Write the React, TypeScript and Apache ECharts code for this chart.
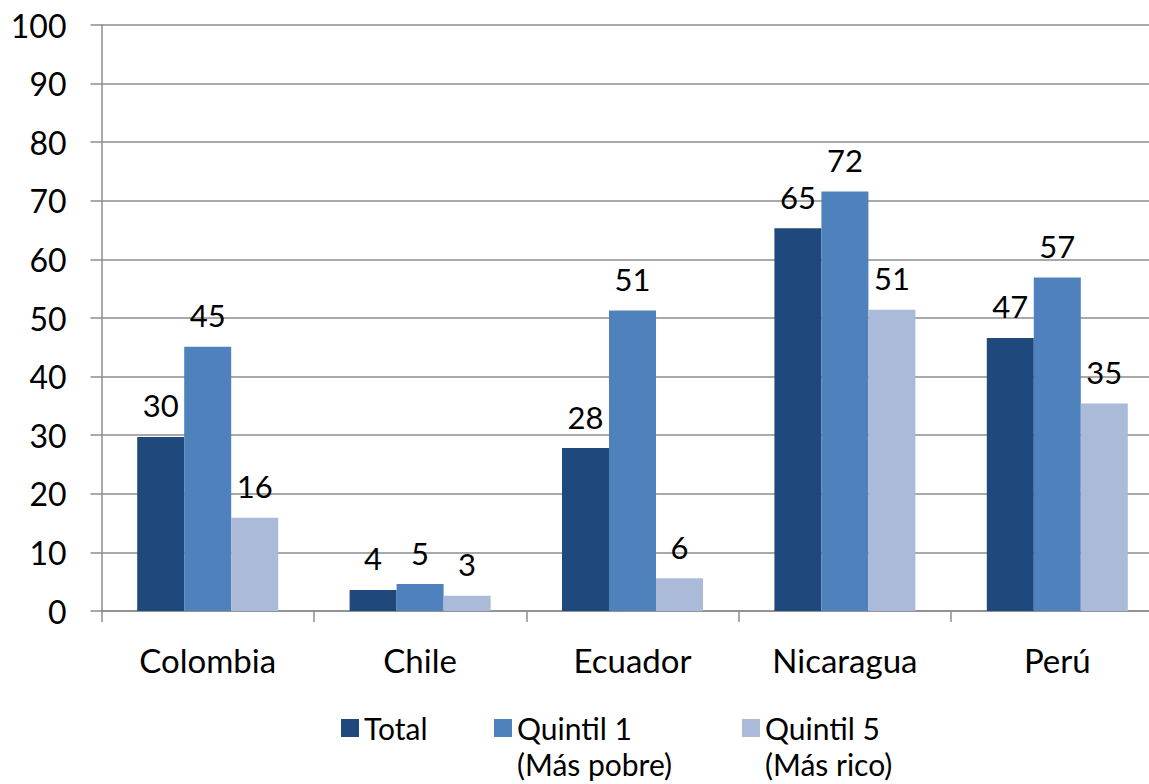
import React, { useEffect, useRef } from "react";
import * as echarts from "echarts";

// Countries on the category axis
const countries = ["Colombia", "Chile", "Ecuador", "Nicaragua", "Perú"];

// Series values (percent)
const totalValues = [29.7, 3.6, 27.8, 65.3, 46.6];
const quintil1Values = [45.1, 4.6, 51.3, 71.6, 56.9];
const quintil5Values = [15.9, 2.6, 5.6, 51.4, 35.4];

// Series names as shown in the legend
const seriesNames = ["Total", "Quintil 1\n(Más pobre)", "Quintil 5\n(Más rico)"];
const seriesColors = ["#1F497D", "#4F81BD", "#AABAD8"];

// Value axis range
const yMin = 0;
const yMax = 100;
const yStep = 10;

const FONT = 'Lato, "Open Sans", "Noto Sans", sans-serif';
const GRAY = "#8c8c8c";
const LEGEND_LINE = 36;
const ICON = 18;

// The plot runs a little past the right edge of the page, so the chart
// is drawn wider than the visible frame and clipped.
const VIEW_W = 1149;
const VIEW_H = 784;
const CHART_W = 1180;

export default function App() {
  const ref = useRef<HTMLDivElement>(null);

  useEffect(() => {
    if (!ref.current) return;
    const chart = echarts.init(ref.current, null, { renderer: "svg" });

    const values = [totalValues, quintil1Values, quintil5Values];

    const series = values.map((data, i) => ({
      name: seriesNames[i],
      type: "bar" as const,
      data,
      barWidth: 47,
      barGap: "0%",
      itemStyle: { color: seriesColors[i] },
      label: {
        show: true,
        position: "top" as const,
        distance: 16,
        fontFamily: FONT,
        fontSize: 31,
        color: "#000",
        formatter: (p: any) => String(Math.round(p.value)),
      },
    }));

    // One legend per entry so each sits at its own spot; two-line names get
    // a blank leading line so the first line lines up with the swatch.
    const legendLefts = [341, 494, 742];
    const legends = seriesNames.map((name, i) => {
      const multi = name.includes("\n");
      const lines = multi ? 3 : 1;
      const blockTop = ICON / 2 - (lines * LEGEND_LINE) / 2;
      return {
        left: legendLefts[i],
        top: 719 + blockTop,
        padding: 0,
        itemWidth: ICON,
        itemHeight: ICON,
        icon: "rect",
        selectedMode: false,
        formatter: (n: string) => (n.includes("\n") ? "\n" + n : n),
        textStyle: {
          fontFamily: FONT,
          fontSize: 30,
          color: "#000",
          lineHeight: LEGEND_LINE,
        },
        data: [name],
      };
    });

    chart.setOption({
      animation: false,
      backgroundColor: "#fff",
      textStyle: { fontFamily: FONT },
      grid: { left: 101.5, top: 25, width: 1062, height: 586, containLabel: false },
      legend: legends,
      xAxis: {
        type: "category",
        data: countries,
        axisLine: { show: true, lineStyle: { color: GRAY, width: 1.5 } },
        axisTick: { show: true, length: 11, interval: 0, lineStyle: { color: GRAY, width: 1.5 } },
        axisLabel: {
          interval: 0,
          margin: 32,
          fontFamily: FONT,
          fontSize: 33,
          color: "#000",
        },
        splitLine: { show: false },
      },
      yAxis: {
        type: "value",
        min: yMin,
        max: yMax,
        interval: yStep,
        axisLine: { show: true, lineStyle: { color: GRAY, width: 1.5 } },
        axisTick: { show: true, length: 11, lineStyle: { color: GRAY, width: 1.5 } },
        axisLabel: {
          margin: 35,
          fontFamily: FONT,
          fontSize: 32,
          color: "#000",
        },
        splitLine: { show: true, lineStyle: { color: GRAY, width: 1.5 } },
      },
      series,
    });

    return () => chart.dispose();
  }, []);

  return (
    <div
      style={{
        position: "absolute",
        left: 0,
        top: 0,
        width: VIEW_W,
        height: VIEW_H,
        overflow: "hidden",
        background: "#fff",
      }}
    >
      <div ref={ref} style={{ width: CHART_W, height: VIEW_H }} />
    </div>
  );
}
